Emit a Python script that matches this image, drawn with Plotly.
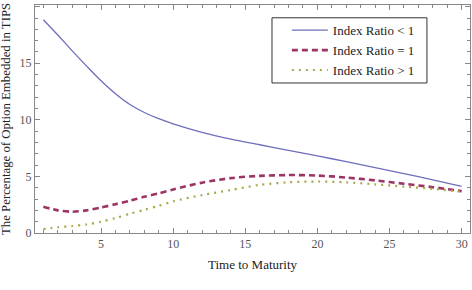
import plotly.graph_objects as go

x_vals = [1, 2, 3, 4, 5, 6, 7, 8, 9, 10, 12, 14, 16, 18, 20, 22, 24, 26, 28, 30]
ratio_lt1 = [18.85, 17.5, 16.1, 14.75, 13.45, 12.3, 11.35, 10.65, 10.1, 9.65,
             8.9, 8.3, 7.8, 7.3, 6.82, 6.3, 5.78, 5.25, 4.7, 4.12]
ratio_eq1 = [2.33, 2.0, 1.88, 2.0, 2.25, 2.55, 2.85, 3.2, 3.5, 3.85,
             4.45, 4.85, 5.05, 5.12, 5.08, 4.9, 4.65, 4.35, 4.05, 3.7]
ratio_gt1 = [0.35, 0.5, 0.62, 0.75, 1.0, 1.32, 1.7, 2.05, 2.4, 2.8,
             3.35, 3.8, 4.25, 4.48, 4.55, 4.48, 4.3, 4.1, 3.9, 3.65]
series_names = ["Index Ratio < 1", "Index Ratio = 1", "Index Ratio > 1"]
x_ticks = [5, 10, 15, 20, 25, 30]
y_ticks = [0, 5, 10, 15, 20]

FONT = "Liberation Serif"

fig = go.Figure()
fig.add_trace(go.Scatter(x=x_vals, y=ratio_lt1, mode="lines", name=series_names[0],
                         line=dict(color="#6e6ebc", width=1.3, shape="spline", smoothing=0.8)))
fig.add_trace(go.Scatter(x=x_vals, y=ratio_eq1, mode="lines", name=series_names[1],
                         line=dict(color="#9c3566", width=2.6, dash="6px,4px", shape="spline", smoothing=0.8)))
fig.add_trace(go.Scatter(x=x_vals, y=ratio_gt1, mode="lines", name=series_names[2],
                         line=dict(color="#a8a84a", width=2.2, dash="2px,5px", shape="spline", smoothing=0.8)))

axis_common = dict(
    showgrid=False, zeroline=False, showline=True, linecolor="#888888", linewidth=1,
    mirror="ticks", ticks="inside", ticklen=5, tickcolor="#888888", tickwidth=1,
    tickfont=dict(family=FONT, size=12, color="#555555"),
)
fig.update_xaxes(range=[0.42, 30.58], tickvals=x_ticks, **axis_common,
                 minor=dict(ticks="inside", ticklen=3, dtick=1, tickcolor="#888888", showgrid=False))
fig.update_yaxes(range=[0, 20.15], tickvals=y_ticks, **axis_common,
                 minor=dict(ticks="inside", ticklen=3, dtick=1, tickcolor="#888888", showgrid=False))

fig.add_annotation(text="Time to Maturity", xref="paper", yref="paper", x=0.5, y=0,
                   yshift=-22, yanchor="top", showarrow=False,
                   font=dict(family=FONT, size=13, color="#222222"))
fig.add_annotation(text="The Percentage of Option Embedded in TIPS", xref="paper", yref="paper",
                   x=0, y=0.5, xshift=-20, xanchor="right", yanchor="middle",
                   textangle=-90, showarrow=False,
                   font=dict(family=FONT, size=12.8, color="#222222"))

# legend frame
fig.add_shape(type="rect", xref="paper", yref="paper",
              x0=0.5448, x1=0.901, y0=0.658, y1=0.944,
              line=dict(color="#333333", width=1), fillcolor="white", layer="below")

fig.update_layout(
    width=472, height=290,
    margin=dict(l=35, r=2, t=5, b=57),
    paper_bgcolor="white", plot_bgcolor="rgba(0,0,0,0)",
    font=dict(family=FONT, size=13, color="#222222"),
    showlegend=True,
    legend=dict(x=0.579, y=0.955, xanchor="left", yanchor="top",
                borderwidth=0, bgcolor="rgba(0,0,0,0)",
                font=dict(family=FONT, size=13, color="#222222"),
                itemwidth=36, tracegroupgap=0),
)

fig.write_html("out.html")
